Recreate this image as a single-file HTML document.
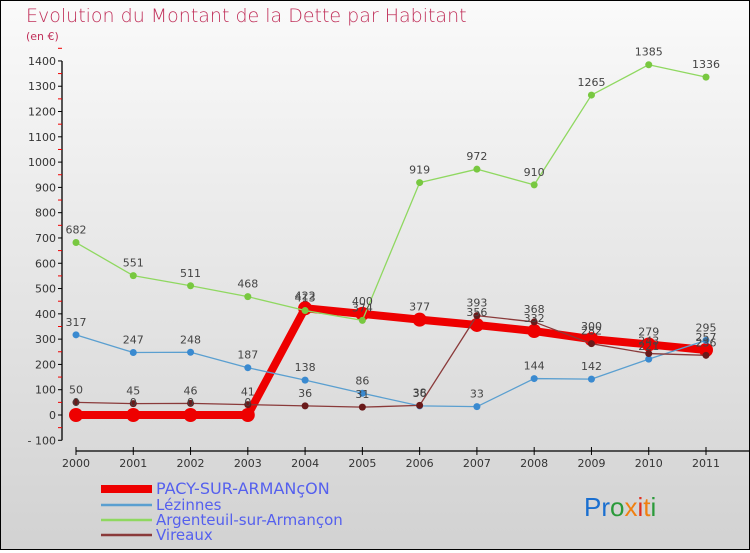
<!DOCTYPE html>
<html><head><meta charset="utf-8"><style>
html,body{margin:0;padding:0}
body{width:750px;height:550px;overflow:hidden;font-family:"DejaVu Sans","Liberation Sans",sans-serif}
#wrap{position:relative;width:748px;height:548px;border:1px solid #000;background:linear-gradient(#fafafa,#d2d2d2)}
</style></head><body>
<div id="wrap">
<svg id="chart" width="748" height="548" xmlns="http://www.w3.org/2000/svg" font-family="DejaVu Sans, Liberation Sans, sans-serif">
<text x="25" y="21" font-size="19" fill="#c0305a" style="font-weight:200">Evolution du Montant de la Dette par Habitant</text>
<text x="25" y="39" font-size="11" fill="#c0305a">(en €)</text>
<g id="axes"></g>
<g id="series"></g>
<g id="labels"></g>
<g id="legend"></g>
<text x="583" y="515" font-size="26" font-family="Liberation Sans, sans-serif"><tspan fill="#1a6fd0">Pr</tspan><tspan fill="#2a9a3a">o</tspan><tspan fill="#f08010">x</tspan><tspan fill="#e03020">i</tspan><tspan fill="#f08010">t</tspan><tspan fill="#2a9a3a">i</tspan></text>
</svg>
</div>
<script>
const years=["2000","2001","2002","2003","2004","2005","2006","2007","2008","2009","2010","2011"];
const pacy=[0,0,0,0,422,400,377,356,332,300,279,257];
const lezinnes=[317,247,248,187,138,86,36,33,144,142,221,295];
const argenteuil=[682,551,511,468,413,374,919,972,910,1265,1385,1336];
const vireaux=[50,45,46,41,36,31,38,393,368,282,243,236];
const yTicks=[-100,0,100,200,300,400,500,600,700,800,900,1000,1100,1200,1300,1400];
const NS="http://www.w3.org/2000/svg";
function X(i){return 75+i*(630/11);}
function Y(v){return 414-v*0.2529;}
function mk(tag,attrs,parent){const e=document.createElementNS(NS,tag);for(const k in attrs)e.setAttribute(k,attrs[k]);parent.appendChild(e);return e;}
const axes=document.getElementById('axes');
let yl=mk('line',{x1:61,y1:Y(1400),x2:61,y2:Y(-100),stroke:'#000','stroke-width':1.3},axes);


yTicks.forEach(t=>{
 mk('line',{x1:57,x2:61,y1:Y(t),y2:Y(t),stroke:'#000'},axes);
 mk('line',{x1:57,x2:61,y1:Y(t+50),y2:Y(t+50),stroke:'#e00'},axes);
 const tx=mk('text',{x:55,y:Y(t)+4,'font-size':11,'text-anchor':'end',fill:'#333'},axes);
 tx.textContent=t<0?'- '+(-t):t;
 
 
});
let xl=mk('line',{x1:75,y1:450,x2:748,y2:450,stroke:'#000','stroke-width':1.3},axes);


years.forEach((y,i)=>{
 mk('line',{x1:X(i),x2:X(i),y1:446,y2:454,stroke:'#000'},axes);
 const tx=mk('text',{x:X(i),y:466,'font-size':11,'text-anchor':'middle',fill:'#333'},axes);
 tx.textContent=y;
 
 
});
const ser=document.getElementById('series'),lab=document.getElementById('labels');
function draw(name,vals,color,dot,w,r){
 const g=mk('g',{},ser);
 
 
 const p=mk('polyline',{points:vals.map((v,i)=>X(i)+','+Y(v)).join(' '),fill:'none',stroke:color,'stroke-width':w,'stroke-linejoin':'round'},g);
 
 
 vals.forEach((v,i)=>{
  const c=mk('circle',{cx:X(i),cy:Y(v),r:r,fill:dot},g);
  
  
  const t=mk('text',{x:X(i),y:Y(v)-9,'font-size':11,'text-anchor':'middle',fill:'#444'},lab);
  t.textContent=v;
  
  
 });
}
draw('pacy',pacy,'#ee0000','#ee0000',8,7);
draw('lezinnes',lezinnes,'#5a9fd0','#3a8ad0',1.3,3.5);
draw('argenteuil',argenteuil,'#8fd860','#78c840',1.3,3.5);
draw('vireaux',vireaux,'#8a3a3a','#6a1a1a',1.3,3.5);
const leg=document.getElementById('legend');
const lnames=["PACY-SUR-ARMANçON","Lézinnes","Argenteuil-sur-Armançon","Vireaux"];
const lcol=['#ee0000','#5a9fd0','#8fd860','#8a3a3a'],lw=[8,2.5,2.5,2.5],ly=[492,508,523,538];
lnames.forEach((n,i)=>{
 const g=mk('g',{},leg);
 
 
 mk('line',{x1:100,x2:151,y1:ly[i]-4,y2:ly[i]-4,stroke:lcol[i],'stroke-width':lw[i]},g);
 const t=mk('text',{x:155,y:ly[i]+1,'font-size':i==0?16:15,fill:'#5560ee'},g);
 t.textContent=n;
});
</script>
</body></html>
